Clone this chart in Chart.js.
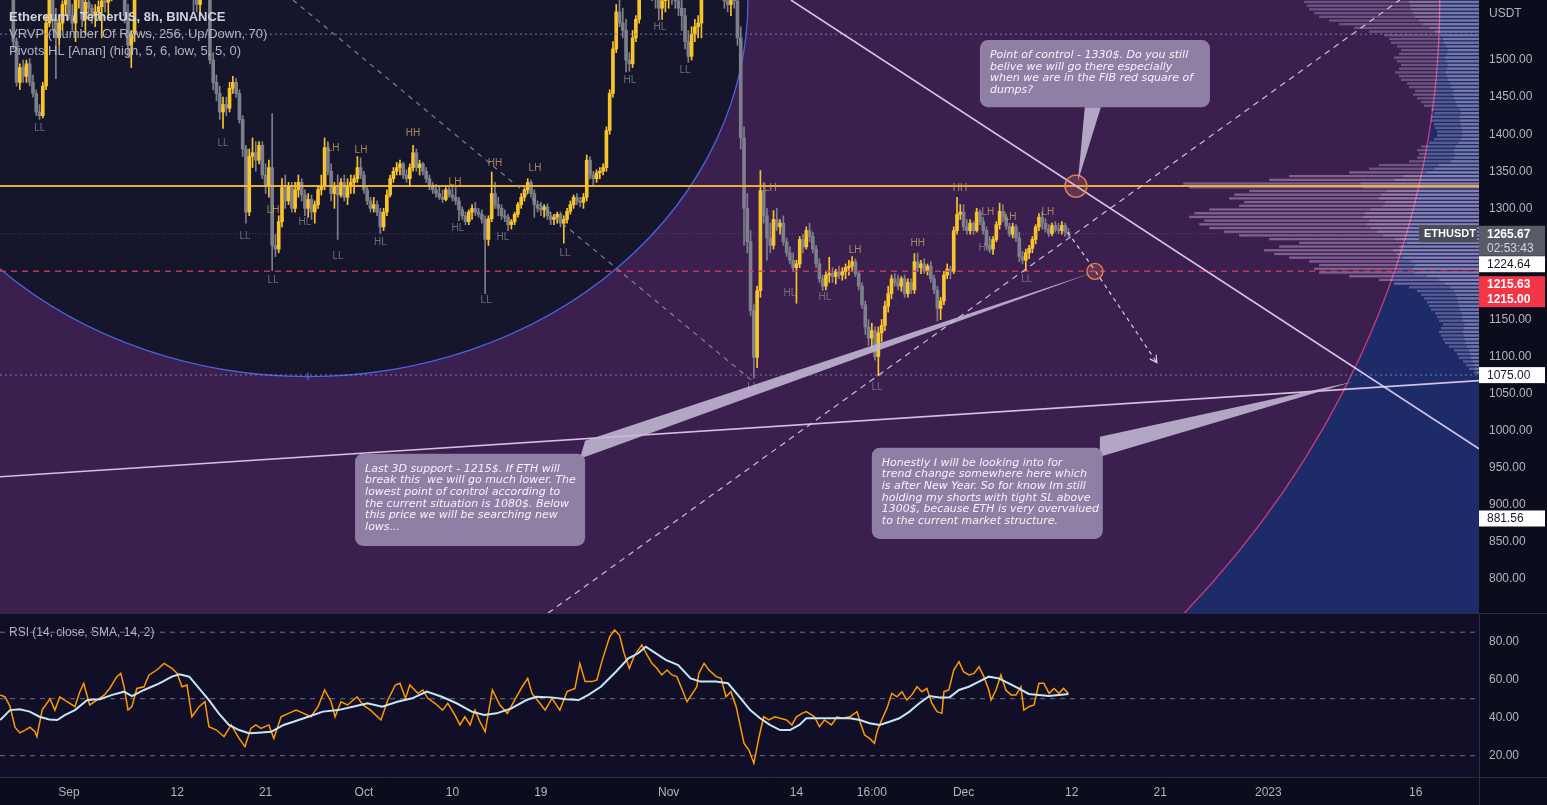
<!DOCTYPE html>
<html><head><meta charset="utf-8">
<script src="https://cdn.jsdelivr.net/npm/chart.js@4.4.1/dist/chart.umd.min.js"></script>
<style>
html,body{margin:0;padding:0;background:#0b0d1d;overflow:hidden;}
#wrap{position:relative;width:1547px;height:805px;background:#0b0d1d;}
#main{position:absolute;left:0;top:0;}
#rsi{position:absolute;left:0;top:613px;}
</style></head><body>
<div id="wrap"><canvas id="main" width="1547" height="613"></canvas><canvas id="rsi" width="1547" height="192"></canvas></div>
<script>
// ===== DATA (8h candles ETHUSDT, index 0 = Aug 25 00:00) =====
const opens = [1658,1690,1680,1660,1610,1525,1470,1490,1478,1495,
 1470,1455,1430,1425,1465,1550,1590,1555,1530,1550,
 1575,1590,1560,1550,1585,1595,1555,1578,1570,1560,
 1565,1572,1580,1578,1590,1610,1618,1660,1620,1560,
 1520,1535,1590,1630,1635,1625,1640,1680,1710,1715,
 1730,1755,1765,1760,1750,1765,1750,1715,1720,1710,
 1595,1575,1600,1625,1600,1500,1470,1455,1430,1440,
 1435,1462,1470,1455,1420,1380,1295,1370,1375,1365,
 1385,1345,1330,1355,1250,1245,1282,1328,1310,1330,
 1300,1325,1335,1318,1300,1312,1295,1305,1325,1330,
 1382,1350,1320,1330,1318,1335,1315,1330,1335,1340,
 1355,1345,1325,1310,1300,1305,1295,1275,1295,1318,
 1340,1350,1355,1360,1345,1340,1355,1375,1355,1360,
 1350,1340,1330,1325,1320,1315,1312,1325,1318,1315,
 1310,1298,1290,1282,1295,1300,1295,1292,1285,1258,
 1286,1320,1305,1300,1290,1288,1278,1282,1292,1305,
 1315,1325,1335,1320,1305,1300,1298,1302,1290,1285,
 1288,1292,1280,1285,1296,1305,1315,1310,1308,1315,
 1365,1345,1340,1348,1350,1355,1405,1455,1515,1565,
 1550,1540,1500,1495,1530,1555,1610,1625,1620,1600,
 1590,1585,1570,1580,1590,1600,1582,1580,1570,1560,
 1525,1505,1535,1545,1550,1620,1650,1640,1645,1630,
 1620,1600,1580,1575,1590,1580,1530,1395,1300,1255,
 1162,1099,1189,1324,1290,1260,1250,1285,1275,1280,
 1255,1240,1230,1220,1225,1258,1248,1270,1262,1245,
 1225,1205,1195,1210,1212,1208,1215,1210,1215,1220,
 1222,1228,1212,1195,1170,1140,1125,1135,1100,1132,
 1142,1168,1185,1205,1200,1195,1205,1185,1200,1190,
 1228,1220,1225,1215,1222,1205,1190,1165,1175,1210,
 1218,1215,1270,1292,1295,1275,1270,1280,1270,1295,
 1282,1270,1250,1245,1258,1278,1296,1288,1276,1265,
 1275,1260,1235,1230,1240,1246,1258,1275,1288,1280,
 1272,1266,1277,1272,1270,1277,1268];
const highs = [1700,1710,1695,1670,1620,1530,1495,1500,1500,1502,
 1480,1460,1440,1470,1560,1600,1605,1570,1560,1580,
 1600,1605,1575,1590,1610,1600,1590,1590,1575,1575,
 1580,1585,1590,1600,1620,1630,1680,1680,1630,1575,
 1540,1600,1640,1650,1650,1645,1690,1720,1725,1740,
 1760,1775,1785,1770,1770,1790,1760,1730,1735,1720,
 1610,1610,1640,1640,1605,1510,1480,1465,1450,1450,
 1470,1478,1475,1460,1425,1385,1380,1395,1390,1390,
 1390,1360,1365,1428,1265,1290,1340,1345,1335,1335,
 1335,1345,1340,1325,1320,1318,1310,1330,1345,1395,
 1390,1360,1335,1345,1340,1345,1340,1345,1345,1370,
 1368,1350,1330,1315,1315,1310,1300,1300,1325,1345,
 1355,1362,1365,1362,1352,1360,1385,1380,1365,1362,
 1355,1345,1335,1332,1330,1325,1328,1330,1330,1328,
 1315,1302,1295,1298,1305,1308,1300,1298,1290,1290,
 1349,1335,1315,1305,1298,1292,1285,1295,1308,1320,
 1328,1340,1338,1325,1310,1308,1305,1306,1295,1292,
 1295,1295,1290,1300,1310,1318,1320,1315,1320,1372,
 1370,1350,1352,1355,1360,1410,1460,1525,1575,1590,
 1570,1555,1510,1540,1560,1620,1640,1650,1630,1610,
 1600,1600,1590,1600,1610,1615,1600,1600,1585,1570,
 1540,1545,1555,1560,1630,1660,1680,1660,1655,1645,
 1630,1610,1600,1595,1600,1600,1545,1410,1320,1270,
 1170,1195,1351,1335,1300,1280,1297,1300,1285,1290,
 1260,1248,1240,1230,1262,1265,1275,1280,1268,1250,
 1232,1210,1215,1234,1220,1218,1222,1220,1225,1230,
 1235,1232,1215,1200,1175,1150,1145,1140,1140,1150,
 1175,1195,1210,1212,1210,1208,1210,1205,1205,1239,
 1240,1230,1232,1225,1228,1210,1195,1180,1215,1225,
 1222,1275,1315,1305,1305,1285,1285,1282,1300,1298,
 1288,1275,1262,1262,1282,1307,1305,1292,1280,1280,
 1278,1268,1242,1245,1250,1262,1278,1293,1295,1286,
 1278,1280,1282,1280,1282,1280,1273];
const lows = [1650,1670,1650,1600,1515,1465,1460,1470,1470,1465,
 1450,1425,1420,1422,1460,1545,1540,1475,1520,1540,
 1560,1555,1540,1525,1570,1545,1535,1560,1550,1545,
 1555,1530,1565,1560,1580,1600,1610,1610,1550,1505,
 1490,1525,1585,1610,1615,1610,1635,1670,1695,1705,
 1720,1745,1745,1745,1740,1740,1700,1700,1700,1565,
 1565,1560,1590,1595,1495,1460,1445,1420,1408,1425,
 1430,1455,1450,1415,1370,1280,1290,1355,1350,1360,
 1340,1320,1315,1216,1235,1240,1275,1300,1305,1295,
 1295,1315,1310,1290,1288,1285,1280,1300,1318,1325,
 1345,1310,1300,1258,1315,1310,1305,1320,1320,1335,
 1340,1320,1305,1295,1295,1290,1266,1270,1290,1315,
 1335,1345,1345,1340,1335,1330,1350,1350,1345,1345,
 1335,1325,1320,1315,1312,1308,1310,1315,1310,1305,
 1283,1285,1278,1278,1285,1290,1288,1280,1185,1250,
 1282,1300,1290,1285,1282,1270,1272,1278,1288,1300,
 1310,1320,1315,1288,1295,1290,1288,1285,1278,1278,
 1280,1275,1253,1280,1292,1300,1305,1302,1300,1310,
 1340,1330,1335,1340,1345,1350,1400,1450,1510,1545,
 1530,1484,1485,1490,1525,1550,1600,1610,1595,1580,
 1570,1554,1555,1565,1570,1575,1570,1560,1540,1515,
 1497,1500,1525,1530,1530,1610,1630,1620,1625,1610,
 1590,1570,1565,1560,1570,1520,1380,1250,1240,1155,
 1071,1085,1180,1280,1230,1240,1245,1270,1265,1250,
 1235,1225,1215,1172,1220,1240,1245,1255,1240,1220,
 1200,1189,1190,1200,1200,1198,1205,1203,1205,1210,
 1215,1208,1190,1165,1130,1115,1110,1095,1074,1120,
 1135,1160,1178,1195,1190,1188,1180,1180,1185,1185,
 1215,1212,1212,1210,1200,1185,1148,1150,1170,1205,
 1205,1212,1265,1285,1270,1265,1265,1265,1268,1278,
 1265,1245,1240,1238,1255,1272,1282,1272,1262,1260,
 1255,1228,1225,1216,1232,1240,1252,1270,1272,1268,
 1262,1263,1268,1266,1265,1262,1262];
const closes = [1690,1680,1660,1610,1525,1470,1490,1478,1495,1470,
 1455,1430,1425,1465,1550,1590,1555,1530,1550,1575,
 1590,1560,1550,1585,1595,1555,1578,1570,1560,1565,
 1572,1580,1578,1590,1610,1618,1660,1620,1560,1520,
 1535,1590,1630,1635,1625,1640,1680,1710,1715,1730,
 1755,1765,1760,1750,1765,1750,1715,1720,1710,1595,
 1575,1600,1625,1600,1500,1470,1455,1430,1440,1435,
 1462,1470,1455,1420,1380,1295,1370,1375,1365,1385,
 1345,1330,1355,1250,1245,1282,1328,1310,1330,1300,
 1325,1335,1318,1300,1312,1295,1305,1325,1330,1382,
 1350,1320,1330,1318,1335,1315,1330,1335,1340,1355,
 1345,1325,1310,1300,1305,1295,1275,1295,1318,1340,
 1350,1355,1360,1345,1340,1355,1375,1355,1360,1350,
 1340,1330,1325,1320,1315,1312,1325,1318,1315,1310,
 1298,1290,1282,1295,1300,1295,1292,1285,1258,1286,
 1320,1305,1300,1290,1288,1278,1282,1292,1305,1315,
 1325,1335,1320,1305,1300,1298,1302,1290,1285,1288,
 1292,1280,1285,1296,1305,1315,1310,1308,1315,1365,
 1345,1340,1348,1350,1355,1405,1455,1515,1565,1550,
 1540,1500,1495,1530,1555,1610,1625,1620,1600,1590,
 1585,1570,1580,1590,1600,1582,1580,1570,1560,1525,
 1505,1535,1545,1550,1620,1650,1640,1645,1630,1620,
 1600,1580,1575,1590,1580,1530,1395,1300,1255,1162,
 1099,1189,1324,1290,1260,1250,1285,1275,1280,1255,
 1240,1230,1220,1225,1258,1248,1270,1262,1245,1225,
 1205,1195,1210,1212,1208,1215,1210,1215,1220,1222,
 1228,1212,1195,1170,1140,1125,1135,1100,1132,1142,
 1168,1185,1205,1200,1195,1205,1185,1200,1190,1228,
 1220,1225,1215,1222,1205,1190,1165,1175,1210,1218,
 1215,1270,1292,1295,1275,1270,1280,1270,1295,1282,
 1270,1250,1245,1258,1278,1296,1288,1276,1265,1275,
 1260,1235,1230,1240,1246,1258,1275,1288,1280,1272,
 1266,1277,1272,1270,1277,1268,1265.67];

const rsiAt = [0,1.5,3,4.5,6,7.6,9.1,10.6,11.2,12.8,15.2,16.7,18.2,20.4,22.8,24.3,25.5,27.3,29.5,31.8,33.4,35.6,36.8,37.8,39,40.2,41.7,43.9,45.4,47.8,50,52.4,54,55.5,57,58.5,60.7,62.5,63.7,66,68.3,70.5,72.9,74.7,76.5,78,79.6,82,83.5,85.7,88,90.3,92.6,94.8,97,99,101,102.2,104,106,108.9,110.7,113,116.2,118.3,120.6,122,123.7,125,127.5,129,130.5,132.7,135,136.6,138.8,140.3,141.8,143.4,144.9,146.4,148,150.2,152.5,154.8,157,159.3,161,162.3,164.7,166.3,168.4,170.8,173,175.4,176.9,178.5,180.6,182.1,183.6,186,187.5,189,190.4,192,193.4,195.8,197.4,198.9,200.4,201.9,203.5,205,206.5,208,209.6,211,212.6,213.2,214.8,216.3,218.5,220,221.5,223,224.6,227,228.5,230,231.6,233,234.6,236.4,238,240,241.6,243,244.7,246,248.5,250,251.5,253.7,255.4,256.9,259.3,261.5,262.4,263.8,265.3,266.8,267.6,269,270.6,272.1,273.7,275.2,276.7,278.2,279.8,281.3,282.8,284.3,285.9,287.4,288,289.5,291,292.6,294,295.6,297.2,298.7,300.2,301.7,302.4,303.9,305.4,306.9,308.5,310,311.5,312.4,313.9,315.5,317,318.5,320.1,321.6,323.1,324.5,326];
const rsiVal = [52,51,46,35,32,33.5,35,32.6,30,44,50,44,51,48.4,45.8,53.7,58,46.7,49.3,52,55.4,61.6,63.3,56.3,44,45.8,55.4,56.3,62.5,65.1,68.6,66,63.3,56.3,57.2,40.5,45.8,48.4,35.3,33.5,30,36.2,29.1,24.8,34.4,36.2,34.4,36.2,29.1,40.5,42.3,44,42.3,40.5,45.8,54.6,48.4,40.5,48.4,46.7,51,46.7,44,38.8,49.3,57.2,58.1,50.2,57.2,52.8,54.6,50.2,47.6,44,47.6,41.4,36.2,40.5,36.2,44,37.9,32.6,54.6,46.7,42.3,49.3,56.3,60.7,52.8,47.6,44,50.2,44,53.7,55.4,68.6,59,59,59.9,69.5,82.6,86.2,83.5,73.9,66,72.1,78.3,73,68.6,66,62.5,65.1,62.5,61.6,55.4,48.4,52,56.3,63.3,68.6,65.1,61.6,60.7,51,53.7,45.8,26.5,23,16,30,40.5,38.8,40.5,39.7,38.8,36.2,40.5,42.3,43.2,40.5,35.3,38.8,36.2,40.5,39.7,40.5,43.2,37.9,30.9,29.1,26.5,32.6,38.8,44.9,52.8,51,53.7,49.3,52,56.3,53.7,55.4,47.6,43.2,42.3,53.7,54.6,65.1,69.5,64.2,62.5,63.3,66.9,61.6,54.6,49.3,54.6,62.5,54.6,52,52,56.3,44,45.8,46.7,58.1,58.1,52.8,55.4,52.8,55.4,52.8];
const smaAt = [0,3,6,9,12,15,17.4,19.7,22.8,26.6,30.4,34.2,37.8,40.2,43.9,48.6,52.4,54.7,57.7,60.7,63.7,66.7,69.8,72.9,75.9,78.8,82.7,86.5,89.5,94,98.5,103.1,107.6,112.1,116.6,121.2,125.7,130.2,134.8,139.3,143.9,147.7,151.5,156,160.6,163.6,168.2,172.7,176.5,179.5,183.3,187.9,191.7,194.7,197,199.3,203.1,206.9,210.7,213.7,218.3,222.1,225.1,228.9,231.9,234.9,238,241,243.9,246,250,254.6,259.3,262.4,265.3,268.4,271.4,274.4,277.5,280.5,283.6,286.6,289.7,292.6,295.6,298.7,301.7,304.7,307.8,310.8,313.9,317,320,323.1,326];
const smaVal = [38.8,44,44.4,43.2,40.5,39.1,38.8,41.4,44,49.3,49.7,52,53.7,51.4,54.6,58.1,61.6,62.8,61.6,55.4,49.3,42.3,36.2,33.5,31.8,32.1,32.6,36.2,37.9,40.5,43.2,44,45.8,47.6,45.8,48.4,50.2,53.7,51,47.6,43.2,41.4,42.3,44.9,49.3,51,50.7,49.7,49.3,52,56.3,64.2,71.2,73.9,77.4,74.8,70.4,67.7,60.7,59,59,58.1,52,44,39.7,36.2,33.5,33.5,36.2,39.7,39.7,39.7,39.7,38.8,37.1,36.2,37.9,39.7,43.2,47.6,51.4,50.7,50.7,54.6,56.3,59,61.6,60.7,58.1,55.4,52.5,52,51.4,52,52.5];
const rsiBands = [85, 50, 20];
const rsiTicks = [20, 40, 60, 80];

// time axis ticks (candle index) and labels
const xTickAt = [21,54,81,111,138,165,204,243,266,294,327,354,387,432];
const xTickLabels = ['Sep','12','21','Oct','10','19','Nov','14','16:00','Dec','12','21','2023','16'];

// visible range
const X_MIN = -0.06, X_MAX = 451.3, P_MIN = 754.05, P_MAX = 1581.1, RSI_MIN = 8.8, RSI_MAX = 95.1;

// visible-range volume profile: rows of 5 USDT starting at 1075
const vpLow = 1075, vpStep = 5;
const vpVol = [5,10,13,16,20,22,25,30,34,36,38,40,38,36,40,42,44,48,50,52,55,58,62,70,85,100,130,160,165,160,170,190,205,215,200,180,210,240,255,270,280,275,290,285,270,240,235,250,245,230,290,296,210,190,130,110,100,70,62,60,62,58,50,45,42,42,44,45,48,48,45,48,55,58,62,66,64,70,72,78,80,84,80,78,82,85,80,78,82,88,90,95,110,125,140,150,160,165,170,172,175,170];
const vpValueArea = [1195, 1350];

// pivot labels: candle index, price, text
const pivAt = [12.1,68,74.7,83.3,83.3,93,101.6,103.1,110.1,116,126,138.8,139.7,148.3,151,153.4,163.2,172.4,192.2,201.3,209,229.7,235,241,251.7,260.9,267.6,280,292.9,301.4,300.5,308.2,313.3,319.7];
const pivPrice = [1408,1388,1262,1297,1203,1281,1381,1236,1378,1254,1401,1335,1273,1176,1361,1261,1354,1239,1473,1545,1486,1058,1327,1185,1180,1243,1058,1253,1327,1295,1246,1288,1205,1295];
const pivText = ['LL','LL','LL','LH','LL','HL','LH','LL','LH','HL','HH','LH','HL','LL','HH','HL','LH','LL','HL','HL','LL','LL','LH','HL','HL','LH','LL','HH','HH','LH','HL','LH','LL','LH'];

// drawings (candle index, price)
const fibCenter = [93.93, 1581.1];
const fibInnerRadius = [134.26, 508.1];
const fibOuterRadius = [345.4, 1306.8];
const pocLevel = 1330, supportLevel = 1215, dotLevels = [1075, 1535], lastPrice = 1265.67;
const greyDashLine = [[89.35,1581.1],[229.4,1067.6]];
const whiteDashLine = [[167.2,754.0],[427.1,1581.1]];
const downTrend = [[241.3,1581.1],[451.3,975.7]];
const upTrend = [[-0.06,937.8],[451.3,1067.6]];
const arrowPath = [[325.8,1267.6],[334.1,1216.2],[353.0,1091.9]];
const circles = [[328.3,1330],[334.1,1215]];
const callBoxes = [[299.0,1527.0,369.2,1436.5],[108.3,968.9,178.5,844.6],[266.0,977.0,336.5,854.0]];
const callPointers = [
  [[331.0,1436.5],[335.9,1436.5],[328.9,1336.5]],
  [[178.5,986.5],[176.9,962.1],[333.5,1213.5]],
  [[335.6,991.9],[335.6,964.9],[412.8,1066.2]]
];
const callTexts = [
  ['Point of control - 1330$. Do you still','belive we will go there especially','when we are in the FIB red square of','dumps?'],
  ['Last 3D support - 1215$. If ETH will','break this  we will go much lower. The','lowest point of control according to','the current situation is 1080$. Below','this price we will be searching new','lows...'],
  ['Honestly I will be looking into for','trend change somewhere here which','is after New Year. So for know Im still','holding my shorts with tight SL above','1300$, because ETH is very overvalued','to the current market structure.']
];
const legendLines = ['Ethereum / TetherUS, 8h, BINANCE','VRVP (Number Of Rows, 256, Up/Down, 70)','Pivots HL [Anan] (high, 5, 6, low, 5, 5, 0)'];

// ===== RENDER =====
const UP = '#f8c42c', DN = '#7d7f8b';
const AXF = 'Liberation Sans, Arial, sans-serif';
const candleColor = c => { const k = c.dataIndex; return closes[k] >= opens[k] ? UP : DN; };
const wickData = closes.map((c,k)=>({x:k, y:[lows[k], highs[k]]}));
const bodyData = closes.map((c,k)=>({x:k, y:[opens[k], c]}));
const noPad = sc => { sc.paddingTop = 0; sc.paddingBottom = 0; sc.paddingLeft = 0; sc.paddingRight = 0; };

function P(s, pt){ return [s.x.getPixelForValue(pt[0]), s.y.getPixelForValue(pt[1])]; }
function line(ctx, s, pts, color, w, dash){
  ctx.beginPath(); ctx.setLineDash(dash||[]); ctx.strokeStyle=color; ctx.lineWidth=w;
  pts.forEach((pt,k)=>{ const q=P(s,pt); k?ctx.lineTo(q[0],q[1]):ctx.moveTo(q[0],q[1]); });
  ctx.stroke(); ctx.setLineDash([]);
}

const mainPlugin = {
  id:'mainDeco',
  beforeDatasetsDraw(chart){
    const {ctx, chartArea:a, scales} = chart; const s = scales;
    ctx.save();
    ctx.beginPath(); ctx.rect(a.left,a.top,a.right-a.left,a.bottom-a.top); ctx.clip();
    ctx.fillStyle='#1d2b69'; ctx.fillRect(a.left,a.top,a.right-a.left,a.bottom-a.top);
    const c = P(s, fibCenter);
    const ell = r => { const rx=Math.abs(s.x.getPixelForValue(fibCenter[0]+r[0])-c[0]); const ry=Math.abs(s.y.getPixelForValue(fibCenter[1]-r[1])-c[1]); ctx.beginPath(); ctx.ellipse(c[0],c[1],rx,ry,0,0,Math.PI*2); return [rx,ry]; };
    ell(fibOuterRadius); ctx.fillStyle='#3a1f4f'; ctx.fill(); ctx.strokeStyle='#d03a7c'; ctx.lineWidth=1.3; ctx.stroke();
    const ri = ell(fibInnerRadius); ctx.fillStyle='#15162b'; ctx.fill(); ctx.strokeStyle='#4b62dd'; ctx.lineWidth=1.3; ctx.stroke();
    ctx.strokeStyle='#4b62dd'; ctx.beginPath(); ctx.moveTo(c[0], c[1]+ri[1]-4); ctx.lineTo(c[0], c[1]+ri[1]+4); ctx.stroke();
    // volume profile
    const vmax = Math.max(...vpVol), wmax = (a.right-a.left)*0.2;
    vpVol.forEach((v,k)=>{
      const pc = vpLow + vpStep*(k+0.5);
      const y1 = s.y.getPixelForValue(pc+vpStep/2), y2 = s.y.getPixelForValue(pc-vpStep/2);
      const w = v/vmax*wmax;
      const inVA = pc>vpValueArea[0] && pc<vpValueArea[1];
      ctx.fillStyle = inVA ? 'rgba(214,176,222,0.45)' : 'rgba(205,188,228,0.34)';
      ctx.fillRect(a.right-w, y1, w, (y2-y1)*0.62);
      ctx.fillStyle = 'rgba(225,225,240,0.22)';
      ctx.fillRect(a.right-w*0.4, y1, w*0.4, (y2-y1)*0.62);
    });
    ctx.restore();
  },
  afterDatasetsDraw(chart){
    const {ctx, chartArea:a, scales} = chart; const s = scales;
    ctx.save();
    ctx.beginPath(); ctx.rect(a.left,a.top,a.right-a.left,a.bottom-a.top); ctx.clip();
    const hl = (p,col,w,d)=>line(ctx,s,[[X_MIN,p],[X_MAX,p]],col,w,d);
    hl(lastPrice,'rgba(150,150,175,0.35)',1,[1,2]);
    dotLevels.forEach(p=>hl(p,'rgba(125,135,190,0.6)',1.5,[2,3]));
    hl(supportLevel,'rgba(214,62,98,0.85)',1.5,[6,5]);
    hl(pocLevel,'rgba(250,188,52,0.92)',2,[]);
    line(ctx,s,greyDashLine,'rgba(150,150,172,0.8)',1.2,[5,5]);
    line(ctx,s,whiteDashLine,'rgba(226,220,238,0.85)',1.2,[6,5]);
    line(ctx,s,downTrend,'rgba(228,208,242,0.92)',1.6,[]);
    line(ctx,s,upTrend,'rgba(236,214,244,0.88)',1.6,[]);
    // arrow
    line(ctx,s,arrowPath,'rgba(232,226,242,0.9)',1.2,[4,4]);
    const e=P(s,arrowPath[2]), b=P(s,arrowPath[1]); const ang=Math.atan2(e[1]-b[1],e[0]-b[0]);
    ctx.strokeStyle='rgba(232,226,242,0.9)'; ctx.lineWidth=1.2; ctx.beginPath();
    ctx.moveTo(e[0]-8*Math.cos(ang-0.5), e[1]-8*Math.sin(ang-0.5)); ctx.lineTo(e[0],e[1]); ctx.lineTo(e[0]-8*Math.cos(ang+0.5), e[1]-8*Math.sin(ang+0.5)); ctx.stroke();
    // circles
    circles.forEach((cc,k)=>{ const q=P(s,cc); ctx.beginPath(); ctx.arc(q[0],q[1],k?8:11,0,Math.PI*2); ctx.fillStyle='rgba(235,130,90,0.22)'; ctx.fill(); ctx.strokeStyle='rgba(238,135,92,0.95)'; ctx.lineWidth=1.4; ctx.stroke(); });
    // pivot labels
    ctx.font='10px '+AXF; ctx.textAlign='center'; ctx.textBaseline='middle';
    pivText.forEach((t,k)=>{ const q=P(s,[pivAt[k],pivPrice[k]]); ctx.fillStyle = t[1]==='H' ? 'rgba(205,165,95,0.78)' : 'rgba(135,135,150,0.75)'; ctx.fillText(t,q[0],q[1]); });
    // callouts
    callPointers.forEach(ptr=>{ ctx.beginPath(); ptr.forEach((pt,k)=>{const q=P(s,pt); k?ctx.lineTo(q[0],q[1]):ctx.moveTo(q[0],q[1]);}); ctx.closePath(); ctx.fillStyle='rgba(196,186,214,0.88)'; ctx.fill(); });
    callBoxes.forEach((bx,k)=>{
      const p1=P(s,[bx[0],bx[1]]), p2=P(s,[bx[2],bx[3]]);
      ctx.beginPath(); ctx.roundRect(p1[0],p1[1],p2[0]-p1[0],p2[1]-p1[1],8); ctx.fillStyle='rgba(146,130,168,0.97)'; ctx.fill();
      ctx.fillStyle='#f6f2fa'; ctx.font='italic 11px "DejaVu Sans", Verdana, sans-serif'; ctx.textAlign='left'; ctx.textBaseline='middle';
      callTexts[k].forEach((t,j)=>ctx.fillText(t, p1[0]+10, p1[1]+15+j*11.7, p2[0]-p1[0]-14));
    });
    ctx.restore();
    // legend
    ctx.save(); ctx.textAlign='left'; ctx.textBaseline='middle';
    legendLines.forEach((t,k)=>{ ctx.font=(k?'':'600 ')+'13px '+AXF; ctx.fillStyle=k?'#b2b5be':'#d1d4dc'; ctx.fillText(t, a.left+9, a.top+17+k*17); });
    ctx.restore();
  },
  afterDraw(chart){
    const {ctx, chartArea:a, scales} = chart; const y = scales.y;
    ctx.save();
    ctx.textBaseline='middle'; ctx.textAlign='left';
    ctx.fillStyle='#b2b5be'; ctx.font='12px '+AXF; ctx.fillText('USDT', a.right+10, 14);
    const tag=(yc,h,txt,bg,fg,bold)=>{ ctx.fillStyle=bg; ctx.fillRect(a.right, yc-h/2, 66, h); ctx.fillStyle=fg; ctx.font=(bold?'bold ':'')+'12px '+AXF; ctx.fillText(txt, a.right+8, yc+0.5); };
    const yl = y.getPixelForValue(lastPrice);
    ctx.fillStyle='#595c66'; ctx.fillRect(a.right, yl-8, 66, 30);
    ctx.fillStyle='#ffffff'; ctx.font='bold 12px '+AXF; ctx.fillText(lastPrice.toFixed(2), a.right+8, yl+0.5);
    ctx.fillStyle='#d1d4dc'; ctx.font='12px '+AXF; ctx.fillText('02:53:43', a.right+8, yl+14.5);
    ctx.fillStyle='#4a4d57'; ctx.fillRect(a.right-60, yl-8.5, 58, 17);
    ctx.fillStyle='#ffffff'; ctx.font='bold 11px '+AXF; ctx.fillText('ETHUSDT', a.right-55, yl+0.5);
    const y1 = y.getPixelForValue(1224.64);
    tag(y1,16,'1224.64','#ffffff','#131722',false);
    ctx.fillStyle='#f23645'; ctx.fillRect(a.right, y1+12, 66, 31);
    ctx.fillStyle='#ffffff'; ctx.font='bold 12px '+AXF; ctx.fillText('1215.63', a.right+8, y1+20); ctx.fillText('1215.00', a.right+8, y1+35);
    tag(y.getPixelForValue(1075),16,'1075.00','#ffffff','#131722',false);
    tag(y.getPixelForValue(881.56),16,'881.56','#ffffff','#131722',false);
    ctx.restore();
  }
};

new Chart(document.getElementById('main'), {
  type:'bar',
  data:{datasets:[
    {data:bodyData, backgroundColor:candleColor, barThickness:3, minBarLength:1, grouped:false, order:0, borderWidth:0},
    {data:wickData, backgroundColor:candleColor, barThickness:1, grouped:false, order:1, borderWidth:0}
  ]},
  options:{
    responsive:false, animation:false, devicePixelRatio:1,
    layout:{padding:0},
    plugins:{legend:{display:false}, tooltip:{enabled:false}},
    scales:{
      x:{type:'linear', min:X_MIN, max:X_MAX, display:false, offset:false, grid:{display:false}},
      y:{position:'right', min:P_MIN, max:P_MAX, grid:{display:false, drawTicks:false}, border:{display:false},
         afterFit(sc){ sc.width = 68; noPad(sc); },
         ticks:{stepSize:50, includeBounds:false, padding:10, color:'#b2b5be', font:{family:AXF, size:12},
                callback:v => v > 1520 ? '' : Number(v).toFixed(2)}}
    }
  },
  plugins:[mainPlugin]
});

const rsiPlugin = {
  id:'rsiDeco',
  beforeDatasetsDraw(chart){
    const {ctx, chartArea:a, scales} = chart;
    ctx.save();
    ctx.fillStyle='#110e28'; ctx.fillRect(a.left,a.top,a.right-a.left,a.bottom-a.top);
    rsiBands.forEach(v=>{ const yy=scales.y.getPixelForValue(v); ctx.beginPath(); ctx.setLineDash([5,5]); ctx.strokeStyle='rgba(165,165,185,0.65)'; ctx.lineWidth=1; ctx.moveTo(a.left,yy); ctx.lineTo(a.right,yy); ctx.stroke(); });
    ctx.setLineDash([]);
    ctx.fillStyle='#b2b5be'; ctx.font='12px '+AXF; ctx.textBaseline='middle'; ctx.textAlign='left';
    ctx.fillText('RSI (14, close, SMA, 14, 2)', a.left+9, scales.y.getPixelForValue(rsiBands[0]));
    ctx.restore();
  },
  afterDraw(chart){
    const {ctx, chartArea:a} = chart;
    ctx.save(); ctx.strokeStyle='#2e2a48'; ctx.lineWidth=1;
    ctx.beginPath(); ctx.moveTo(0,a.top+0.5); ctx.lineTo(chart.width,a.top+0.5); ctx.stroke();
    ctx.beginPath(); ctx.moveTo(0,a.bottom+0.5); ctx.lineTo(chart.width,a.bottom+0.5); ctx.stroke();
    ctx.beginPath(); ctx.moveTo(a.right+0.5,0); ctx.lineTo(a.right+0.5,chart.height); ctx.stroke();
    ctx.restore();
  }
};

new Chart(document.getElementById('rsi'), {
  type:'line',
  data:{datasets:[
    {data:smaAt.map((v,k)=>({x:v,y:smaVal[k]})), borderColor:'#c4e6f4', borderWidth:2, pointRadius:0, tension:0, order:0},
    {data:rsiAt.map((v,k)=>({x:v,y:rsiVal[k]})), borderColor:'#ff9a00', borderWidth:1.5, pointRadius:0, tension:0, order:1}
  ]},
  options:{
    responsive:false, animation:false, devicePixelRatio:1,
    layout:{padding:0},
    plugins:{legend:{display:false}, tooltip:{enabled:false}},
    scales:{
      x:{type:'linear', min:X_MIN, max:X_MAX, offset:false, grid:{display:false, drawTicks:false}, border:{display:false},
         afterFit(sc){ sc.height = 28; noPad(sc); },
         afterBuildTicks(sc){ sc.ticks = xTickAt.map(v=>({value:v})); },
         ticks:{autoSkip:false, maxRotation:0, padding:8, color:'#b2b5be', font:{family:AXF, size:12},
                callback:(v,i)=>xTickLabels[i]}},
      y:{position:'right', min:RSI_MIN, max:RSI_MAX, grid:{display:false, drawTicks:false}, border:{display:false},
         afterFit(sc){ sc.width = 68; noPad(sc); },
         afterBuildTicks(sc){ sc.ticks = rsiTicks.map(v=>({value:v})); },
         ticks:{padding:10, color:'#b2b5be', font:{family:AXF, size:12}, callback:v=>Number(v).toFixed(2)}}
    }
  },
  plugins:[rsiPlugin]
});
</script>
</body></html>
